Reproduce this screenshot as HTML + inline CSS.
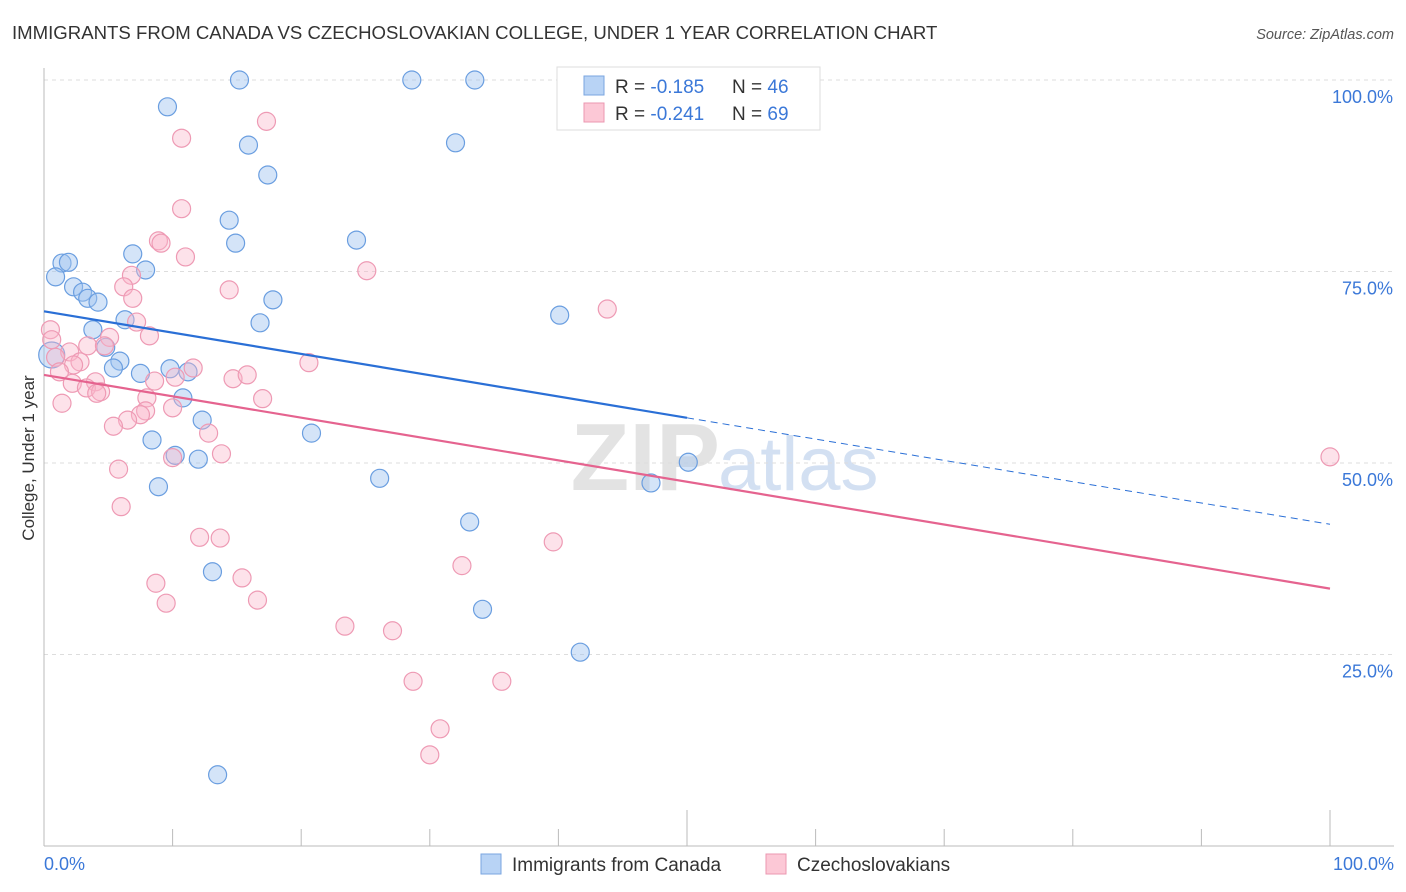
<!DOCTYPE html>
<html><head><meta charset="utf-8"><style>
body{margin:0;background:#fff;font-family:"Liberation Sans",sans-serif;}
svg{display:block}
</style></head><body>
<svg id="c" width="1406" height="892">
<text x="12" y="39" font-size="18.6" fill="#333">IMMIGRANTS FROM CANADA VS CZECHOSLOVAKIAN COLLEGE, UNDER 1 YEAR CORRELATION CHART</text>
<text x="1394" y="39" font-size="14.5" fill="#555" font-style="italic" text-anchor="end">Source: ZipAtlas.com</text>
<text x="720" y="490" font-size="96" font-weight="bold" fill="#ddd" text-anchor="end" opacity="0.8">ZIP</text>
<text x="718" y="490" font-size="76" fill="#c9d9f0" opacity="0.8">atlas</text>
<g id="grid"></g><g id="pts"></g><g id="lines"></g>
<text transform="translate(34,458) rotate(-90)" font-size="17" fill="#333" text-anchor="middle">College, Under 1 year</text>
<g>
<rect x="557" y="67" width="263" height="63" fill="#fff" stroke="#ddd"/>
<rect x="584" y="76" width="20" height="19" fill="#b8d3f5" stroke="#7aa6e0"/>
<rect x="584" y="103" width="20" height="19" fill="#fcc8d6" stroke="#eb97b0"/>
<text x="615" y="93" font-size="19" fill="#333">R = <tspan fill="#3b78d8">-0.185</tspan></text>
<text x="732" y="93" font-size="19" fill="#333">N = <tspan fill="#3b78d8">46</tspan></text>
<text x="615" y="120" font-size="19" fill="#333">R = <tspan fill="#3b78d8">-0.241</tspan></text>
<text x="732" y="120" font-size="19" fill="#333">N = <tspan fill="#3b78d8">69</tspan></text>
</g>
<rect x="481" y="854" width="20" height="20" fill="#b8d3f5" stroke="#7aa6e0"/>
<text x="512" y="871" font-size="19" fill="#333">Immigrants from Canada</text>
<rect x="766" y="854" width="20" height="20" fill="#fcc8d6" stroke="#eb97b0"/>
<text x="797" y="871" font-size="19" fill="#333">Czechoslovakians</text>
</svg>
<script>
const blueX=[15.2,28.6,33.5,9.6,15.9,32.0,17.4,14.4,14.9,24.3,6.9,7.9,1.4,1.9,0.9,2.3,3.0,3.4,4.2,17.8,16.8,6.3,3.8,4.8,5.9,5.4,7.5,9.8,11.2,40.1,10.8,12.3,20.8,8.4,10.2,12.0,50.1,8.9,26.1,47.2,33.1,13.1,34.1,41.7,13.5,0.6];
const blueY=[100,100,100,96.5,91.5,91.8,87.6,81.7,78.7,79.1,77.3,75.2,76.1,76.2,74.3,73.0,72.3,71.5,71.0,71.3,68.3,68.7,67.4,65.1,63.3,62.4,61.7,62.3,61.9,69.3,58.5,55.6,53.9,53.0,51.0,50.5,50.1,46.9,48.0,47.4,42.3,35.8,30.9,25.3,9.3,64.1];
const pinkX=[17.3,10.7,10.7,8.9,9.1,11.0,25.1,6.8,14.4,6.2,6.9,43.8,7.2,0.5,0.6,5.1,8.2,3.4,4.7,2.0,0.9,2.8,2.3,11.6,20.6,1.2,14.7,15.8,10.2,8.6,2.2,4.0,3.3,4.4,4.1,17.0,8.0,1.4,10.0,7.9,7.5,6.5,5.4,12.8,10.0,13.8,5.8,6.0,12.1,13.7,39.6,32.5,8.7,15.4,9.5,16.6,23.4,27.1,28.7,35.6,30.8,30.0,100];
const pinkY=[94.6,92.4,83.2,79.0,78.7,76.9,75.1,74.5,72.6,73.0,71.5,70.1,68.4,67.4,66.1,66.4,66.6,65.3,65.3,64.5,63.8,63.2,62.8,62.4,63.1,61.9,61.0,61.5,61.2,60.7,60.4,60.6,59.8,59.3,59.1,58.4,58.5,57.8,57.2,56.8,56.3,55.6,54.8,53.9,50.7,51.2,49.2,44.3,40.3,40.2,39.7,36.6,34.3,35.0,31.7,32.1,28.7,28.1,21.5,21.5,15.3,11.9,50.8];
const blueTrend=[69.8,42.0]; // y at x=0, x=100
const pinkTrend=[61.5,33.6];
const yTicks=[25,50,75,100];
const yTickLabels=["25.0%","50.0%","75.0%","100.0%"];
const xTicks=[0,10,20,30,40,50,60,70,80,90,100];
const xTickLabels=["0.0%","100.0%"];
const NS="http://www.w3.org/2000/svg";
const X=v=>44+v*12.86, Y=v=>846-v*7.66;
function mk(t,a,p){const e=document.createElementNS(NS,t);for(const k in a)e.setAttribute(k,a[k]);p.appendChild(e);return e;}
const g=document.getElementById('grid');
yTicks.forEach((t,i)=>{
 const l=mk('line',{x1:44,x2:1394,y1:Y(t),y2:Y(t),stroke:'#ddd','stroke-dasharray':'4,4'},g);
 
 
 const tx=mk('text',{x:1393,y:Y(t)+23,'font-size':18,fill:'#3b78d8','text-anchor':'end'},g);
 tx.textContent=yTickLabels[i];
 
 
});
const ax=mk('line',{x1:44,x2:1394,y1:846,y2:846,stroke:'#bbb'},g);


const ay=mk('line',{x1:44,x2:44,y1:68,y2:846,stroke:'#bbb'},g);


xTicks.forEach(t=>{
 const l=mk('line',{x1:X(t),x2:X(t),y1:(t%50===0&&t>0)?810:829,y2:846,stroke:'#bbb'},g);
 
 
});
[[0,'start'],[100,'end']].forEach((d,i)=>{
 const tx=mk('text',{x:i?1394:44,y:870,'font-size':18,fill:'#3b78d8','text-anchor':d[1]},g);
 tx.textContent=xTickLabels[i];
 
 
});
const p=document.getElementById('pts');
blueX.forEach((x,i)=>{
 const c=mk('circle',{cx:X(x),cy:Y(blueY[i]),r:i===blueX.length-1?13:9,fill:'rgba(160,196,240,0.45)',stroke:'#6a9ee0','stroke-width':1.2},p);
 
 
});
pinkX.forEach((x,i)=>{
 const c=mk('circle',{cx:X(x),cy:Y(pinkY[i]),r:9,fill:'rgba(250,182,202,0.4)',stroke:'#ee9ab4','stroke-width':1.2},p);
 
 
});
const L=document.getElementById('lines');
const by=x=>blueTrend[0]+(blueTrend[1]-blueTrend[0])*x/100;
const py=x=>pinkTrend[0]+(pinkTrend[1]-pinkTrend[0])*x/100;
let l1=mk('line',{x1:X(0),y1:Y(by(0)),x2:X(50),y2:Y(by(50)),stroke:'#2a6fd6','stroke-width':2.2},L);


let l2=mk('line',{x1:X(50),y1:Y(by(50)),x2:X(100),y2:Y(by(100)),stroke:'#2a6fd6','stroke-width':1,'stroke-dasharray':'7,5'},L);


let l3=mk('line',{x1:X(0),y1:Y(py(0)),x2:X(100),y2:Y(py(100)),stroke:'#e5638f','stroke-width':2.2},L);


</script>
</body></html>
